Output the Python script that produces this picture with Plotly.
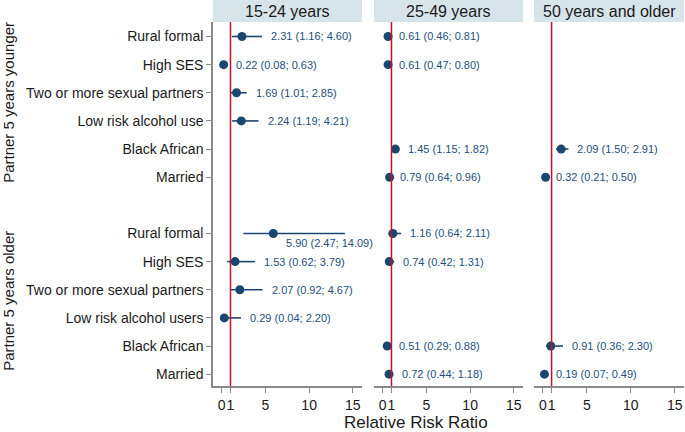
import plotly.graph_objects as go

# ---- data ----
panels = ["15-24 years", "25-49 years", "50 years and older"]
cats_younger = ["Rural formal", "High SES", "Two or more sexual partners",
                "Low risk alcohol use", "Black African", "Married"]
cats_older = ["Rural formal", "High SES", "Two or more sexual partners",
              "Low risk alcohol users", "Black African", "Married"]

# younger partner group
y15_rr = [2.31, 0.22, 1.69, 2.24, None, None]
y15_lo = [1.16, 0.08, 1.01, 1.19, None, None]
y15_hi = [4.60, 0.63, 2.85, 4.21, None, None]
y25_rr = [0.61, 0.61, None, None, 1.45, 0.79]
y25_lo = [0.46, 0.47, None, None, 1.15, 0.64]
y25_hi = [0.81, 0.80, None, None, 1.82, 0.96]
y50_rr = [None, None, None, None, 2.09, 0.32]
y50_lo = [None, None, None, None, 1.50, 0.21]
y50_hi = [None, None, None, None, 2.91, 0.50]

# older partner group
o15_rr = [5.90, 1.53, 2.07, 0.29, None, None]
o15_lo = [2.47, 0.62, 0.92, 0.04, None, None]
o15_hi = [14.09, 3.79, 4.67, 2.20, None, None]
o25_rr = [1.16, 0.74, None, None, 0.51, 0.72]
o25_lo = [0.64, 0.42, None, None, 0.29, 0.44]
o25_hi = [2.11, 1.31, None, None, 0.88, 1.18]
o50_rr = [None, None, None, None, 0.91, 0.19]
o50_lo = [None, None, None, None, 0.36, 0.07]
o50_hi = [None, None, None, None, 2.30, 0.49]

x_ticks = [0, 1, 5, 10, 15]
ref_value = 1

# ---- styling ----
W, H = 685, 432
ml, mr, mt, mb = 213, 1, 22, 46
pw = W - ml - mr
ph = H - mt - mb
navy = "#1a476f"
lab_col = "#23507c"
red = "#c8102e"
grey = "#8a8a8a"
header_fill = "#d7e4ea"
font = "Liberation Sans, Arial, sans-serif"

px_domains = [(213, 362), (374, 523), (534, 684)]
domains = [((a - ml) / pw, (b - ml) / pw) for a, b in px_domains]
xrange_ = [-1.0, 16.05]

rows_y = list(range(0, 6))
rows_o = list(range(7, 13))
tickvals = rows_y + rows_o
ticktext = cats_younger + cats_older

panel_data = [
    [(y15_rr, y15_lo, y15_hi), (o15_rr, o15_lo, o15_hi)],
    [(y25_rr, y25_lo, y25_hi), (o25_rr, o25_lo, o25_hi)],
    [(y50_rr, y50_lo, y50_hi), (o50_rr, o50_lo, o50_hi)],
]

fig = go.Figure()
annotations = []
shapes = []

for p, name in enumerate(panels):
    xa = "x" if p == 0 else f"x{p+1}"
    ya = "y" if p == 0 else f"y{p+1}"
    for (rr, lo, hi), rows in zip(panel_data[p], [rows_y, rows_o]):
        # CI lines
        lx, ly = [], []
        for r, l, h, row in zip(rr, lo, hi, rows):
            if r is None:
                continue
            lx += [l, h, None]
            ly += [row, row, None]
        fig.add_trace(go.Scatter(x=lx, y=ly, mode="lines", xaxis=xa, yaxis=ya,
                                 line=dict(color=navy, width=1.6),
                                 showlegend=False, hoverinfo="skip"))
        px_, py_ = [], []
        for r, l, h, row in zip(rr, lo, hi, rows):
            if r is None:
                continue
            px_.append(r)
            py_.append(row)
            txt = f"{r:.2f} ({l:.2f}; {h:.2f})"
            if h > 12:
                annotations.append(dict(x=r, y=row, xref=xa, yref=ya, text=txt,
                                        showarrow=False, xanchor="left",
                                        yanchor="middle", xshift=11, yshift=-10,
                                        font=dict(size=11, color=lab_col, family=font)))
            else:
                annotations.append(dict(x=h, y=row, xref=xa, yref=ya, text=txt,
                                        showarrow=False, xanchor="left",
                                        yanchor="middle", xshift=7,
                                        font=dict(size=11, color=lab_col, family=font)))
        fig.add_trace(go.Scatter(x=px_, y=py_, mode="markers", xaxis=xa, yaxis=ya,
                                 marker=dict(color=navy, size=9),
                                 showlegend=False))
    # reference line
    shapes.append(dict(type="line", xref=xa, yref=f"{ya} domain",
                       x0=ref_value, x1=ref_value, y0=0, y1=1,
                       line=dict(color=red, width=1.5), layer="above"))
    # header box
    d0, d1 = domains[p]
    shapes.append(dict(type="rect", xref="paper", yref="paper",
                       x0=d0, x1=d1, y0=1.0, y1=1 + mt / ph,
                       fillcolor=header_fill, line=dict(width=0)))
    annotations.append(dict(x=(d0 + d1) / 2, y=1 + mt / ph / 2, xref="paper",
                            yref="paper", text=name, showarrow=False,
                            xanchor="center", yanchor="middle",
                            font=dict(size=16, color="#1a1a1a", family=font)))

# group titles
annotations.append(dict(x=(9 - ml) / pw, y=2.5, xref="paper", yref="y",
                        text="Partner 5 years younger", textangle=-90,
                        showarrow=False, xanchor="center", yanchor="middle",
                        yshift=4, font=dict(size=15, color="#1a1a1a", family=font)))
annotations.append(dict(x=(9 - ml) / pw, y=9.5, xref="paper", yref="y",
                        text="Partner 5 years older", textangle=-90,
                        showarrow=False, xanchor="center", yanchor="middle",
                        yshift=3, font=dict(size=15, color="#1a1a1a", family=font)))
# x title
annotations.append(dict(x=(416 - ml) / pw, y=(386 - 422) / ph, xref="paper",
                        yref="paper", text="Relative Risk Ratio", showarrow=False,
                        xanchor="center", yanchor="middle",
                        font=dict(size=17, color="#1a1a1a", family=font)))

layout = dict(
    width=W, height=H,
    margin=dict(l=ml, r=mr, t=mt, b=mb, pad=0, autoexpand=False),
    paper_bgcolor="white", plot_bgcolor="white",
    font=dict(family=font, color="#1a1a1a"),
    shapes=shapes, annotations=annotations, showlegend=False,
)
for p in range(3):
    xk = "xaxis" if p == 0 else f"xaxis{p+1}"
    yk = "yaxis" if p == 0 else f"yaxis{p+1}"
    layout[xk] = dict(domain=list(domains[p]), range=xrange_, anchor="y" if p == 0 else f"y{p+1}",
                      tickvals=x_ticks, ticktext=[str(v) for v in x_ticks],
                      tickangle=0, automargin=False,
                      showline=True, linecolor=grey, linewidth=1.5,
                      ticks="outside", ticklen=5, tickcolor=grey, tickwidth=1.2,
                      showgrid=False, zeroline=False,
                      tickfont=dict(size=14, color="#1a1a1a", family=font))
    yd = dict(domain=[0, 1], range=[12.42, -0.515], anchor="x" if p == 0 else f"x{p+1}",
              showgrid=False, zeroline=False, automargin=False)
    if p == 0:
        yd.update(tickvals=tickvals, ticktext=ticktext, showline=True,
                  linecolor=grey, linewidth=1.5, ticks="outside", ticklen=5,
                  tickcolor=grey, tickwidth=1.2,
                  tickfont=dict(size=14, color="#1a1a1a", family=font))
    else:
        yd.update(showticklabels=False, showline=False, ticks="")
        yd["matches"] = "y"
    layout[yk] = yd

fig.update_layout(**layout)
fig.write_html("out.html", config={"displayModeBar": False},
               post_script="document.body.style.margin='0';document.body.style.overflow='hidden';")
